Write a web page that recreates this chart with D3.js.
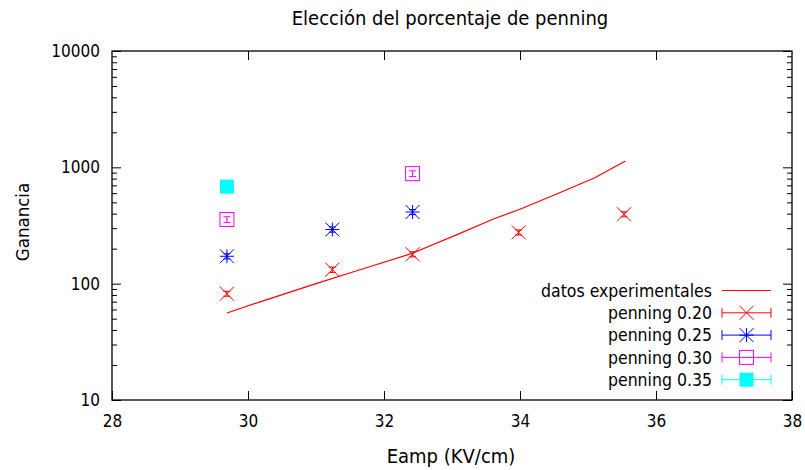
<!DOCTYPE html>
<html>
<head>
<meta charset="utf-8">
<script src="https://cdn.jsdelivr.net/npm/d3@7"></script>
<style>
  html, body { margin: 0; padding: 0; background: #fff; }
  svg text { font-family: "DejaVu Sans Condensed", "DejaVu Sans", sans-serif; font-stretch: condensed; fill: #000; }
</style>
</head>
<body>
<svg id="chart" width="805" height="470"></svg>
<script>
// Gain vs. amplification field for several penning fractions
const xTicks = [28, 30, 32, 34, 36, 38];
const yTicks = [10, 100, 1000, 10000];

// experimental curve
const expField = [29.69, 30.2, 31.0, 31.6, 32.4, 33.1, 33.6, 34.0, 34.6, 35.1, 35.55];
const expGain  = [56, 70.5, 100, 129, 181, 268, 358, 436, 610, 813, 1133];

// simulated points with error bars
const field20 = [29.69, 31.24, 32.42, 33.98, 35.53];
const gain20  = [82, 132, 179, 276, 395];
const err20   = [4, 7, 9, 14, 20];

const field25 = [29.69, 31.24, 32.42];
const gain25  = [172, 292, 413];
const err25   = [9, 15, 21];

const field30 = [29.69, 32.42];
const gain30  = [356, 883];
const err30   = [20, 50];

const field35 = [29.69];
const gain35  = [683];
const err35   = [35];

const legendLabels = ["datos experimentales", "penning 0.20", "penning 0.25", "penning 0.30", "penning 0.35"];

const svg = d3.select("#chart");
const L = 112, R = 792, T = 51, B = 400;

const x = d3.scaleLinear().domain([28, 38]).range([L, R]);
const y = d3.scaleLog().domain([10, 10000]).range([B, T]);

const minorY = [];
[10, 100, 1000].forEach(d => { for (let k = 2; k <= 9; k++) minorY.push(d * k); });

// axes (ticks drawn inward, mirrored on top and right)
function styleAxis(g) {
  g.select(".domain").remove();
  g.selectAll(".tick line").attr("stroke", "#000").attr("stroke-width", 1);
}
svg.append("g").attr("transform", `translate(0,${B})`)
  .call(d3.axisBottom(x).tickValues(xTicks).tickSizeInner(-9).tickSizeOuter(0).tickPadding(15).tickFormat(d3.format("d")))
  .call(styleAxis)
  .call(g => g.selectAll("text").attr("font-size", 17));
svg.append("g").attr("transform", `translate(0,${T})`)
  .call(d3.axisTop(x).tickValues(xTicks.slice(1, -1)).tickSizeInner(-9).tickSizeOuter(0).tickFormat(""))
  .call(styleAxis);
svg.append("g").attr("transform", `translate(0,${B})`)
  .call(d3.axisBottom(x).tickValues(xTicks.slice(1, -1)).tickSizeInner(-9).tickSizeOuter(0).tickFormat(""))
  .call(styleAxis);

svg.append("g").attr("transform", `translate(${L},0)`)
  .call(d3.axisLeft(y).tickValues(yTicks).tickSizeInner(-9).tickSizeOuter(0).tickPadding(12).tickFormat(d3.format("d")))
  .call(styleAxis)
  .call(g => g.selectAll("text").attr("font-size", 17));
svg.append("g").attr("transform", `translate(${L},0)`)
  .call(d3.axisLeft(y).tickValues(minorY).tickSizeInner(-5).tickSizeOuter(0).tickFormat(""))
  .call(styleAxis);
svg.append("g").attr("transform", `translate(${R},0)`)
  .call(d3.axisRight(y).tickValues(yTicks).tickSizeInner(-9).tickSizeOuter(0).tickFormat(""))
  .call(styleAxis);
svg.append("g").attr("transform", `translate(${R},0)`)
  .call(d3.axisRight(y).tickValues(minorY).tickSizeInner(-5).tickSizeOuter(0).tickFormat(""))
  .call(styleAxis);

// frame
svg.append("rect").attr("x", L).attr("y", T).attr("width", R - L).attr("height", B - T)
  .attr("fill", "none").attr("stroke", "#000").attr("stroke-width", 1.3);

// titles
svg.append("text").attr("x", 450).attr("y", 25).attr("text-anchor", "middle")
  .attr("font-size", 20).text("Elección del porcentaje de penning");
svg.append("text").attr("x", 451).attr("y", 463).attr("text-anchor", "middle")
  .attr("font-size", 20).text("Eamp (KV/cm)");
svg.append("text").attr("transform", "translate(29,222) rotate(-90)").attr("text-anchor", "middle")
  .attr("font-size", 18.5).text("Ganancia");

// marker shapes
const S = 7;
function marker(g, type, color) {
  if (type === "x") {
    g.append("path").attr("d", `M${-S},${-S}L${S},${S}M${-S},${S}L${S},${-S}`).attr("stroke", color).attr("fill", "none");
  } else if (type === "star") {
    g.append("path").attr("d", `M${-S},${-S}L${S},${S}M${-S},${S}L${S},${-S}M0,${-S}L0,${S}M${-S},0L${S},0`).attr("stroke", color).attr("fill", "none");
  } else if (type === "box") {
    g.append("rect").attr("x", -S).attr("y", -S).attr("width", 2 * S).attr("height", 2 * S).attr("stroke", color).attr("fill", "none");
    g.append("rect").attr("x", -0.5).attr("y", -0.5).attr("width", 1).attr("height", 1).attr("fill", color);
  } else if (type === "fbox") {
    g.append("rect").attr("x", -S).attr("y", -S).attr("width", 2 * S).attr("height", 2 * S).attr("fill", color);
  }
}

const plot = svg.append("g");

// experimental curve
plot.append("path")
  .datum(expField.map((f, i) => [f, expGain[i]]))
  .attr("d", d3.line().x(d => x(d[0])).y(d => y(d[1])))
  .attr("fill", "none").attr("stroke", "#ff0000").attr("stroke-width", 1.2);

const series = [
  { f: field20, g: gain20, e: err20, type: "x", color: "#ff0000" },
  { f: field25, g: gain25, e: err25, type: "star", color: "#0000ff" },
  { f: field30, g: gain30, e: err30, type: "box", color: "#ff00ff" },
  { f: field35, g: gain35, e: err35, type: "fbox", color: "#00ffff" }
];

series.forEach(s => {
  s.f.forEach((f, i) => {
    const cx = x(f), lo = y(s.g[i] - s.e[i]), hi = y(s.g[i] + s.e[i]);
    plot.append("path")
      .attr("d", `M${cx},${lo}L${cx},${hi}M${cx - 3.5},${lo}L${cx + 3.5},${lo}M${cx - 3.5},${hi}L${cx + 3.5},${hi}`)
      .attr("stroke", s.color).attr("fill", "none");
    const g = plot.append("g").attr("transform", `translate(${cx},${y(s.g[i])})`);
    marker(g, s.type, s.color);
  });
});

// legend
const key = svg.append("g");
const rowY0 = 290.5, rowStep = 22.3, textX = 712, sx0 = 722, sx1 = 771;
legendLabels.forEach((lab, i) => {
  const ry = rowY0 + i * rowStep;
  key.append("text").attr("x", textX).attr("y", ry).attr("dy", "0.35em")
    .attr("text-anchor", "end").attr("font-size", 17.5).text(lab);
  if (i === 0) {
    key.append("line").attr("x1", sx0).attr("x2", sx1).attr("y1", ry).attr("y2", ry)
      .attr("stroke", "#ff0000").attr("stroke-width", 1.2);
  } else {
    const s = series[i - 1];
    key.append("path")
      .attr("d", `M${sx0},${ry}L${sx1},${ry}M${sx0},${ry - 5}L${sx0},${ry + 5}M${sx1},${ry - 5}L${sx1},${ry + 5}`)
      .attr("stroke", s.color).attr("fill", "none");
    const g = key.append("g").attr("transform", `translate(${(sx0 + sx1) / 2},${ry})`);
    marker(g, s.type, s.color);
  }
});
</script>
</body>
</html>
